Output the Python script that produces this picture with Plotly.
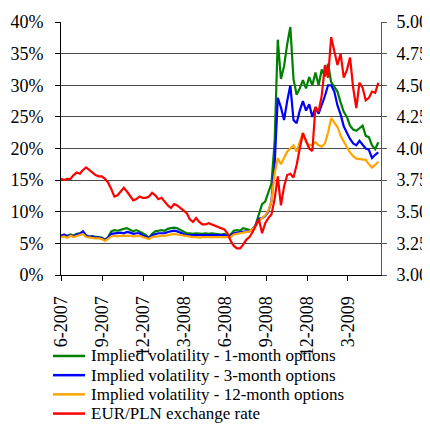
import pandas as pd
import plotly.graph_objects as go

# weekly observations, June 2007 - May 2009
dates = pd.date_range('2007-06-01', periods=102, freq='7D')

vol_1m = [6.1, 6.3, 6.2, 6.4, 6.2, 6.5, 6.6, 6.8, 6.3, 6.1,
          6.1, 6.0, 6.0, 5.9, 5.6, 6.0, 6.9, 7.1, 7.0, 7.2,
          7.3, 7.4, 7.1, 6.9, 7.1, 6.9, 6.6, 6.3, 5.9, 6.5,
          6.9, 7.0, 7.1, 7.0, 7.3, 7.4, 7.5, 7.4, 7.1, 6.8,
          6.6, 6.6, 6.5, 6.6, 6.5, 6.5, 6.6, 6.5, 6.6, 6.5,
          6.5, 6.4, 6.5, 6.3, 6.4, 7.0, 7.1, 7.0, 7.4, 7.3,
          7.1, 7.0, 8.0, 9.8, 11.2, 11.6, 12.9, 14.5, 21.0, 37.2,
          31.0, 33.0, 36.5, 39.2, 31.0, 28.5, 29.5, 30.8, 29.5, 31.3,
          30.0, 32.0, 30.0, 32.5, 31.4, 33.4, 30.5, 29.8, 29.0, 27.3,
          25.8, 25.0, 23.6, 23.0, 22.8, 23.2, 23.6, 22.0, 21.8, 20.5,
          19.9, 21.0]

vol_3m = [6.2, 6.4, 6.1, 6.3, 6.1, 6.4, 6.5, 6.9, 6.2, 6.0,
          6.1, 5.9, 5.9, 5.8, 5.5, 5.9, 6.5, 6.6, 6.6, 6.7,
          6.6, 6.8, 6.7, 6.5, 6.6, 6.6, 6.3, 6.1, 5.8, 6.3,
          6.5, 6.6, 6.6, 6.6, 6.8, 6.9, 7.0, 6.9, 6.7, 6.5,
          6.3, 6.3, 6.3, 6.3, 6.2, 6.3, 6.3, 6.2, 6.3, 6.2,
          6.2, 6.2, 6.3, 6.1, 6.2, 6.6, 6.7, 6.7, 6.9, 6.9,
          6.9, 7.3, 7.9, 8.9, 9.0, 9.3, 10.0, 11.7, 17.5, 28.0,
          26.5, 24.5, 27.5, 30.0, 24.5, 24.0, 26.0, 27.5, 26.0, 27.0,
          25.0, 26.5, 25.5, 26.8, 28.3, 30.0, 30.0, 29.0, 26.8, 25.4,
          23.5, 22.5, 21.5, 20.8, 20.5, 21.2, 20.5, 20.0, 19.8, 18.5,
          19.0, 19.4]

vol_12m = [6.0, 6.1, 5.9, 6.2, 6.0, 6.2, 6.3, 6.5, 6.0, 5.9,
           5.9, 5.8, 5.8, 5.7, 5.4, 5.7, 6.1, 6.2, 6.1, 6.2,
           6.2, 6.3, 6.2, 6.1, 6.2, 6.2, 6.0, 5.9, 5.7, 6.0,
           6.1, 6.2, 6.2, 6.2, 6.3, 6.4, 6.5, 6.4, 6.3, 6.2,
           6.1, 6.0, 6.0, 6.0, 5.9, 6.0, 6.0, 5.9, 6.0, 5.9,
           5.9, 6.0, 6.0, 5.9, 6.0, 6.4, 6.5, 6.6, 6.8, 6.8,
           6.9, 7.3, 7.8, 8.6, 9.0, 9.4, 10.2, 11.6, 16.0, 18.5,
           17.5, 18.5, 19.5, 20.0, 20.5, 19.5, 21.0, 22.5, 21.0, 20.5,
           20.6, 21.0, 20.5, 20.3, 20.8, 22.5, 24.8, 24.0, 23.4, 22.0,
           21.0, 20.2, 19.4, 18.8, 18.4, 18.3, 18.2, 18.2, 17.5, 17.0,
           17.4, 17.9]

eurpln = [3.76, 3.75, 3.76, 3.76, 3.79, 3.81, 3.80, 3.83, 3.85, 3.83,
          3.81, 3.79, 3.78, 3.78, 3.76, 3.73, 3.68, 3.62, 3.63, 3.66,
          3.69, 3.66, 3.62, 3.59, 3.60, 3.62, 3.61, 3.61, 3.62, 3.65,
          3.63, 3.60, 3.61, 3.58, 3.55, 3.53, 3.56, 3.55, 3.53, 3.51,
          3.49, 3.44, 3.42, 3.45, 3.42, 3.40, 3.40, 3.41, 3.40, 3.39,
          3.38, 3.37, 3.36, 3.33, 3.27, 3.23, 3.21, 3.21, 3.24, 3.28,
          3.30, 3.34, 3.39, 3.44, 3.33, 3.41, 3.45, 3.48, 3.60, 3.78,
          3.55, 3.70, 3.79, 3.80, 3.77, 3.87, 4.00, 4.12, 4.06, 4.00,
          3.98, 4.33, 4.29, 4.42, 4.66, 4.56, 4.88, 4.76, 4.66, 4.75,
          4.56, 4.62, 4.72, 4.48, 4.32, 4.52, 4.48, 4.38, 4.40, 4.45,
          4.44, 4.52]

tick_dates = ['2007-06-01', '2007-09-01', '2007-12-01', '2008-03-01',
              '2008-06-01', '2008-09-01', '2008-12-01', '2009-03-01']
tick_labels = ['6-2007', '9-2007', '12-2007', '3-2008',
               '6-2008', '9-2008', '12-2008', '3-2009']

names = ['Implied volatility - 1-month options',
         'Implied volatility - 3-month options',
         'Implied volatility - 12-month options',
         'EUR/PLN exchange rate']
colors = ['#008000', '#0000ff', '#ffa500', '#ff0000']

font = 'Times New Roman, Liberation Serif, DejaVu Serif, serif'

fig = go.Figure()
for vals, name, col in zip([vol_1m, vol_3m, vol_12m], names[:3], colors[:3]):
    fig.add_trace(go.Scatter(x=dates, y=[v / 100 for v in vals], mode='lines',
                             name=name, line=dict(color=col, width=2.2)))
fig.add_trace(go.Scatter(x=dates, y=eurpln, mode='lines', yaxis='y2',
                         name=names[3], line=dict(color=colors[3], width=2.2)))

# legend drawn by hand below the plot (tight line spacing as in the original)
for i, (name, col) in enumerate(zip(names, colors)):
    yy = -0.320 - i * 0.0759
    fig.add_shape(type='line', xref='paper', yref='paper',
                  x0=-0.025, x1=0.075, y0=yy, y1=yy,
                  line=dict(color=col, width=2.5))
    fig.add_annotation(xref='paper', yref='paper', x=0.088, y=yy,
                       text=name, showarrow=False, xanchor='left', yanchor='middle',
                       font=dict(family=font, size=17, color='black'))

# page has an 8px body margin, so the figure is a bit smaller than the window
fig.update_layout(
    width=422, height=417,
    margin=dict(l=53, r=49, t=14, b=150, autoexpand=False),
    paper_bgcolor='white', plot_bgcolor='white',
    font=dict(family=font, size=18, color='black'),
    showlegend=False,
    xaxis=dict(type='date', range=['2007-06-01', '2009-05-14'],
               tickvals=tick_dates, ticktext=tick_labels, tickangle=-90,
               ticks='outside', ticklen=5, tickcolor='black',
               ticklabelstandoff=8, automargin=False,
               showline=True, linecolor='black', linewidth=1,
               showgrid=False, zeroline=False),
    yaxis=dict(range=[0, 0.4], dtick=0.05, tickformat='.0%',
               ticks='outside', ticklen=5, tickcolor='black',
               ticklabelstandoff=8, automargin=False,
               showline=True, linecolor='black', linewidth=1,
               showgrid=True, gridcolor='#4a4a4a', gridwidth=1, zeroline=False),
    yaxis2=dict(range=[3, 5], dtick=0.25, tickformat='.2f',
                overlaying='y', side='right',
                ticks='outside', ticklen=5, tickcolor='#555555',
                ticklabelstandoff=6, automargin=False,
                showline=True, linecolor='#555555', linewidth=1,
                showgrid=False, zeroline=False),
)

fig.write_html("out.html")
